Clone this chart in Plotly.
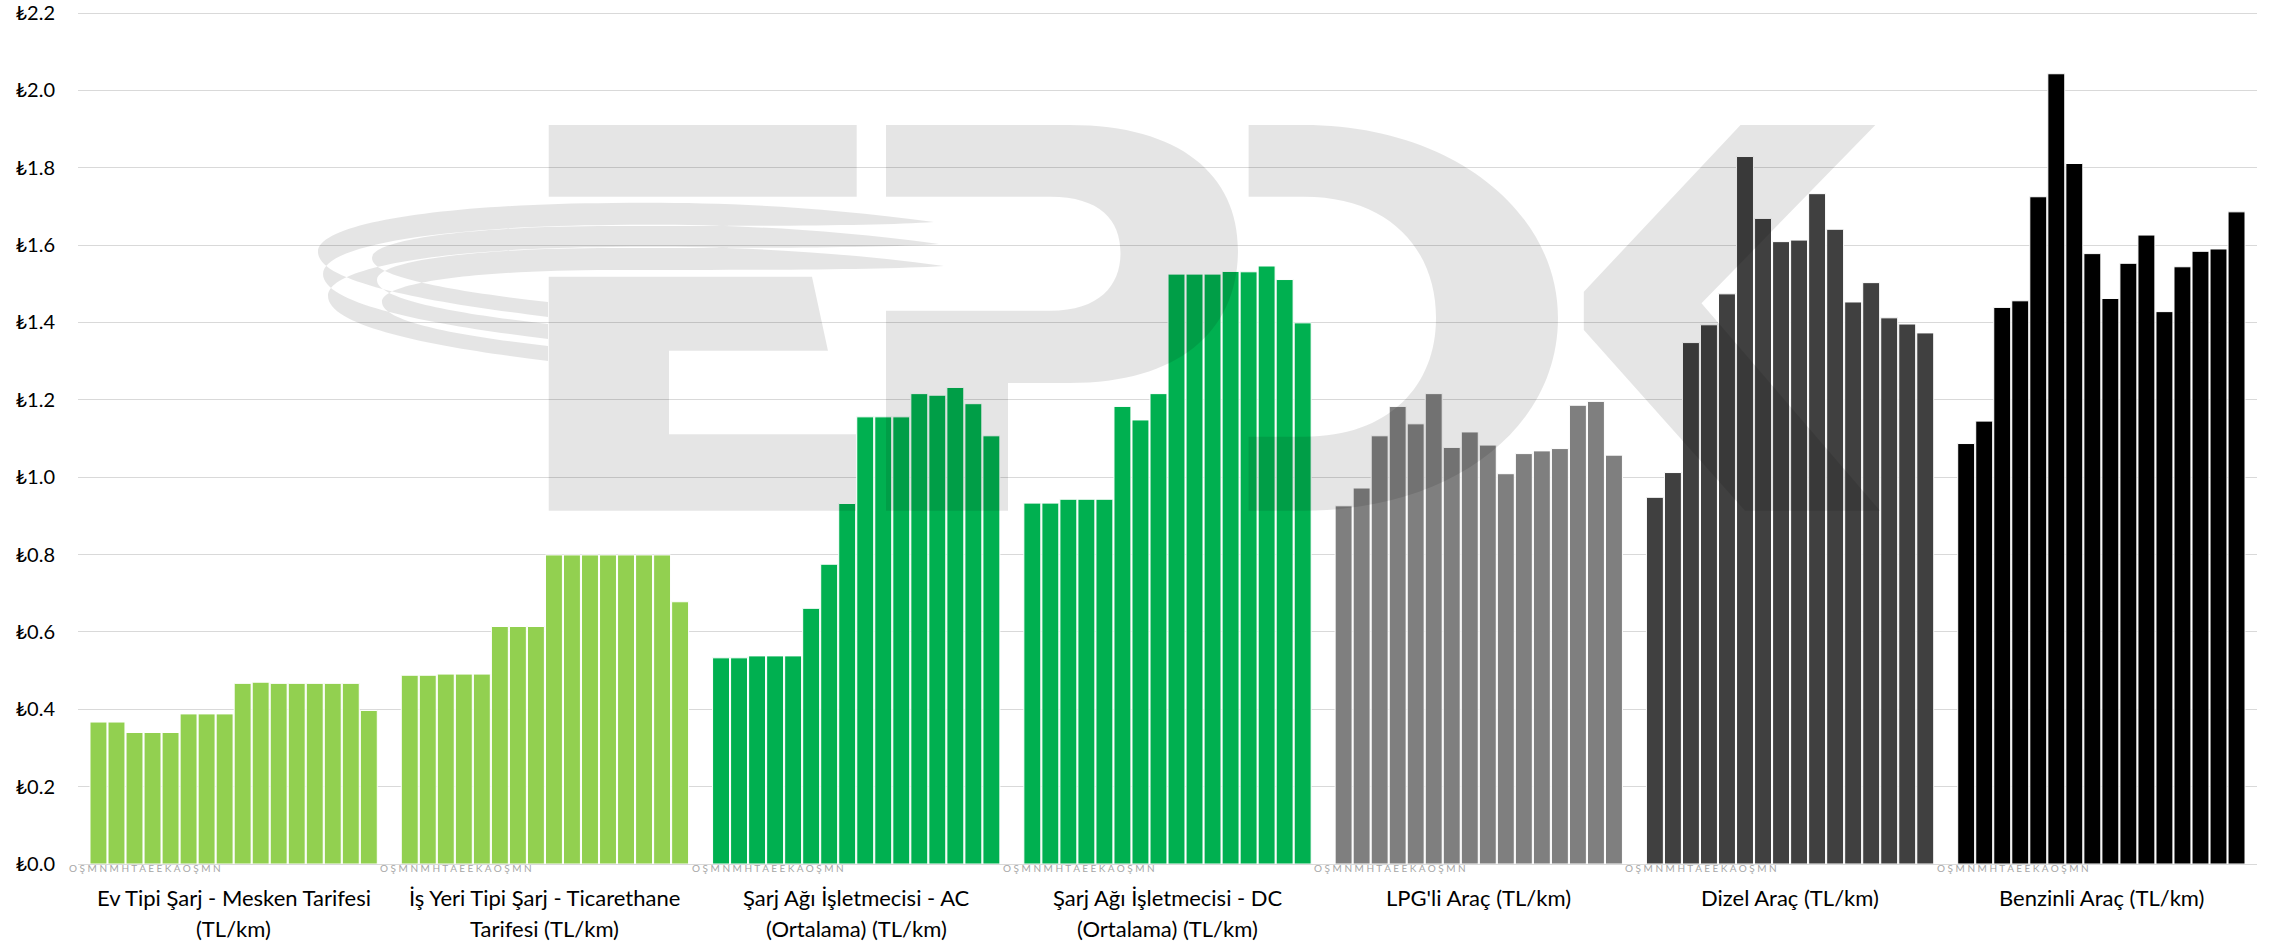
import re
import plotly.graph_objects as go

# ---------------- data ----------------
categories = [
    "Ev Tipi Şarj - Mesken Tarifesi<br>(TL/km)",
    "İş Yeri Tipi Şarj - Ticarethane<br>Tarifesi (TL/km)",
    "Şarj Ağı İşletmecisi - AC<br>(Ortalama) (TL/km)",
    "Şarj Ağı İşletmecisi - DC<br>(Ortalama) (TL/km)",
    "LPG'li Araç (TL/km)",
    "Dizel Araç (TL/km)",
    "Benzinli Araç (TL/km)",
]
months = ["Ocak", "Şubat", "Mart", "Nisan", "Mayıs", "Haziran", "Temmuz", "Ağustos",
          "Eylül", "Ekim", "Kasım", "Aralık", "Ocak", "Şubat", "Mart", "Nisan"]
month_initials = "O Ş M N M H T A E E K A O Ş M N"

ev_tipi = [0.367, 0.367, 0.340, 0.340, 0.340, 0.388, 0.388, 0.388,
           0.467, 0.470, 0.467, 0.467, 0.467, 0.467, 0.467, 0.397]
is_yeri = [0.488, 0.488, 0.491, 0.491, 0.491, 0.614, 0.614, 0.614,
           0.799, 0.799, 0.799, 0.799, 0.799, 0.799, 0.799, 0.678]
sarj_ac = [0.533, 0.533, 0.538, 0.538, 0.538, 0.661, 0.775, 0.932,
           1.156, 1.156, 1.156, 1.216, 1.212, 1.232, 1.190, 1.107]
sarj_dc = [0.933, 0.933, 0.943, 0.943, 0.943, 1.183, 1.148, 1.216,
           1.525, 1.525, 1.525, 1.532, 1.531, 1.546, 1.511, 1.399]
lpg = [0.926, 0.972, 1.107, 1.183, 1.138, 1.216, 1.077, 1.117,
       1.083, 1.009, 1.061, 1.068, 1.074, 1.186, 1.196, 1.057]
dizel = [0.948, 1.012, 1.348, 1.394, 1.474, 1.829, 1.669, 1.609,
         1.613, 1.733, 1.641, 1.453, 1.503, 1.412, 1.396, 1.373]
benzin = [1.087, 1.145, 1.439, 1.456, 1.725, 2.043, 1.811, 1.578,
          1.462, 1.553, 1.626, 1.428, 1.544, 1.584, 1.590, 1.686]

series = [ev_tipi, is_yeri, sarj_ac, sarj_dc, lpg, dizel, benzin]
colors = ["#92D050", "#92D050", "#00B050", "#00B050", "#7F7F7F", "#404040", "#000000"]

FONT = "Lato, 'Noto Sans', 'DejaVu Sans', sans-serif"
Y_MAX = 2.213

fig = go.Figure()
for m in range(len(months)):
    fig.add_trace(go.Bar(
        x=categories,
        y=[s[m] for s in series],
        name=months[m],
        marker=dict(color=colors, line=dict(color="white", width=1)),
        showlegend=False,
    ))

# ---------------- watermark (EPDK logo, approximate) ----------------
W, H = 2284, 943
ML, MR, MT, MB = 78, 27, 8, 79
L, R, T, B = ML, W - MR, MT, H - MB


def to_paper(path):
    def rep(mt):
        x = float(mt.group(1))
        y = float(mt.group(2))
        return f"{(x - L) / (R - L):.5f},{(B - y) / (B - T):.5f}"
    return re.sub(r"(-?\d+(?:\.\d+)?),(-?\d+(?:\.\d+)?)", rep, path)


parts = []
for k in range(3):
    dx, dy = 5 * k, 22 * k
    parts.append(
        f"M {934+dx},{222+dy} C {800+dx},{204+dy} 700,{202+dy} 612,{203+dy} "
        f"C 450,{204+dy} {318+dx},{222+dy} {318+dx},{252+dy} "
        f"C {318+dx},{285+dy} 450,{305+dy} 548,{317+dy} L 548,{302+dy} "
        f"C 460,{292+dy} {372+dx},{278+dy} {372+dx},{258+dy} "
        f"C {372+dx},{238+dy} 480,{226+dy} 612,{226+dy} "
        f"C 760,{226+dy} 880,{226+dy} {934+dx},{222+dy} Z"
    )
parts.append("M 548.7,125 L 548.7,196.7 L 856.7,196.7 L 856.7,125 Z")
parts.append("M 548.7,276.7 L 548.7,510.7 L 856,510.7 L 856,434.3 L 669,434.3 "
             "L 669,350.7 L 828,350.7 L 812,276.7 Z")
parts.append("M 886,125 L 886,196.7 L 1050,196.7 C 1100,196.7 1120.5,220 1120.5,253 "
             "C 1120.5,285 1100,310.7 1050,310.7 L 886,310.7 L 886,510.7 L 1008,510.7 "
             "L 1008,383 L 1070,383 C 1180,383 1238,330 1238,250 C 1238,175 1180,125 1070,125 Z")
parts.append("M 1248.6,125 L 1248.6,196.7 L 1304,196.7 C 1390,196.7 1436,250 1436,318 "
             "C 1436,385 1390,436.7 1304,436.7 L 1248.6,436.7 L 1248.6,510.7 L 1304,510.7 "
             "C 1450,510.7 1558,430 1558,318 C 1558,210 1450,125 1304,125 Z")
parts.append("M 1740.5,125 L 1583.8,291.7 L 1583.8,330 L 1745,510.7 L 1880,510.7 "
             "L 1701.5,303.3 L 1875.4,125 Z")

fig.add_shape(type="path", path=to_paper(" ".join(parts)), xref="paper", yref="paper",
              fillcolor="rgba(0,0,0,0.1)", line=dict(width=0), layer="above")

# ---------------- category labels & month initials ----------------
n = len(categories)
annotations = []
for i, cat in enumerate(categories):
    lines = cat.split("<br>")
    for j, ln in enumerate(lines):
        annotations.append(dict(
            x=(i + 0.5) / n, y=0, xref="paper", yref="paper", text=ln, showarrow=False,
            xanchor="center", yanchor="middle", yshift=-33 - 31 * j,
            font=dict(family=FONT, size=22, color="#000000"),
        ))
    annotations.append(dict(
        x=i / n, y=0, xref="paper", yref="paper", text=month_initials, showarrow=False,
        xanchor="left", yanchor="middle", xshift=-10, yshift=-4, borderpad=0,
        font=dict(family=FONT, size=10, color="#A6A6A6"),
    ))

fig.update_layout(
    width=W, height=H,
    margin=dict(l=ML, r=MR, t=MT, b=MB, pad=0),
    plot_bgcolor="white", paper_bgcolor="white",
    barmode="group", bargap=0.0736, bargroupgap=0.06,
    showlegend=False,
    font=dict(family=FONT, color="#000000"),
    annotations=annotations,
)
fig.update_xaxes(type="category", range=[-0.5, n - 0.5], showticklabels=False,
                 showgrid=False, showline=False, ticks="", automargin=False)
fig.update_yaxes(range=[0, Y_MAX], tick0=0, dtick=0.2, tickprefix="₺", tickformat=".1f",
                 showgrid=True, gridcolor="#D9D9D9", gridwidth=1.3,
                 zeroline=True, zerolinecolor="#D9D9D9", zerolinewidth=1.3,
                 showline=False, ticks="", ticklabelstandoff=22,
                 ticklabeloverflow="allow",
                 tickfont=dict(family=FONT, size=20, color="#000000"), automargin=False)

fig.write_html("out.html")
